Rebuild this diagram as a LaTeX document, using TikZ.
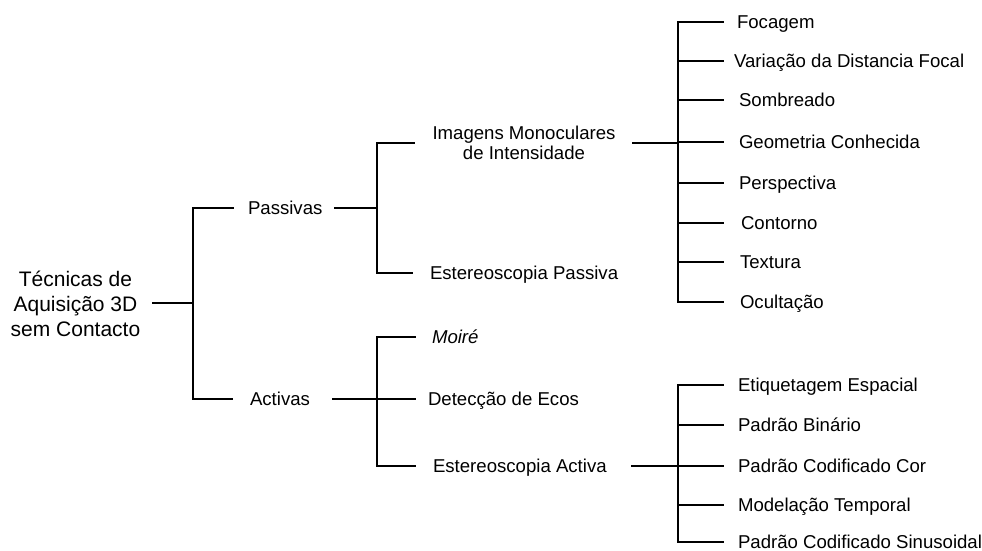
\documentclass[tikz,border=0pt]{standalone}
\usepackage{fontspec}
\setmainfont{Liberation Sans}
\begin{document}
\begin{tikzpicture}[x=1pt,y=-1pt,
  lbl/.style={anchor=west,inner sep=0pt,outer sep=0pt,font=\fontsize{18.6}{21}\selectfont,text height=13.4pt,text depth=0pt},
  conn/.style={line width=1.6pt,line cap=rect}]
\useasboundingbox (0,0) rectangle (982,551);
% nodes
\node[inner sep=0pt,align=center,font=\fontsize{21}{25}\selectfont] (root) at (75.5,304) {Técnicas de\\Aquisição 3D\\sem Contacto};
\node[lbl] (pas) at (248,208) {Passivas};
\node[lbl] (act) at (250,399) {Activas};
\node[inner sep=0pt,align=center,font=\fontsize{18.6}{20.5}\selectfont] (img) at (524,143) {Imagens Monoculares\\de Intensidade};
\node[lbl] (estp) at (430,273) {Estereoscopia Passiva};
\node[lbl,font=\fontsize{18.6}{21}\selectfont\itshape] (moi) at (432,337) {Moiré};
\node[lbl] (eco) at (428,399) {Detecção de Ecos};
\node[lbl] (esta) at (433,466) {Estereoscopia Activa};
\node[lbl] (f1) at (737,22) {Focagem};
\node[lbl] (f2) at (734,61) {Variação da Distancia Focal};
\node[lbl] (f3) at (739,100) {Sombreado};
\node[lbl] (f4) at (739,142) {Geometria Conhecida};
\node[lbl] (f5) at (739,183) {Perspectiva};
\node[lbl] (f6) at (741,223) {Contorno};
\node[lbl] (f7) at (740,262) {Textura};
\node[lbl] (f8) at (740,302) {Ocultação};
\node[lbl] (g1) at (738,385) {Etiquetagem Espacial};
\node[lbl] (g2) at (738,425) {Padrão Binário};
\node[lbl] (g3) at (738,466) {Padrão Codificado Cor};
\node[lbl] (g4) at (738,505) {Modelação Temporal};
\node[lbl] (g5) at (738,542) {Padrão Codificado Sinusoidal};
% bracket coordinates
\coordinate (b0) at (193,303);
\coordinate (b1) at (377,208);
\coordinate (b3) at (377,399);
\coordinate (b2) at (678,143);
\coordinate (b4) at (678,466);
% level 0
\draw[conn] ([xshift=12pt]root.east |- b0) -- (b0);
\draw[conn] (b0 |- pas.west) -- (b0 |- act.west);
\draw[conn] (b0 |- pas.west) -- ([xshift=-15pt]pas.west);
\draw[conn] (b0 |- act.west) -- ([xshift=-18pt]act.west);
% passivas
\draw[conn] ([xshift=12pt]pas.east) -- (b1);
\draw[conn] (b1 |- img.west) -- (b1 |- estp.west);
\draw[conn] (b1 |- img.west) -- ([xshift=-18pt]img.west);
\draw[conn] (b1 |- estp.west) -- ([xshift=-18pt]estp.west);
% activas
\draw[conn] ([xshift=23pt]act.east) -- (b3);
\draw[conn] (b3 |- moi.west) -- (b3 |- esta.west);
\draw[conn] (b3 |- moi.west) -- ([xshift=-17pt]moi.west);
\draw[conn] (b3 |- eco.west) -- ([xshift=-13pt]eco.west);
\draw[conn] (b3 |- esta.west) -- ([xshift=-18pt]esta.west);
% imagens monoculares
\draw[conn] ([xshift=17pt]img.east) -- (b2);
\draw[conn] (b2 |- f1.west) -- (b2 |- f8.west);
\foreach \n in {f1,f2,f3,f4,f5,f6,f7,f8}
  \draw[conn] (b2 |- \n.west) -- ([xshift=45pt]b2 |- \n.west);
% estereoscopia activa
\draw[conn] ([xshift=25pt]esta.east) -- (b4);
\draw[conn] (b4 |- g1.west) -- (b4 |- g5.west);
\foreach \n in {g1,g2,g3,g4,g5}
  \draw[conn] (b4 |- \n.west) -- ([xshift=45pt]b4 |- \n.west);
\end{tikzpicture}
\end{document}
